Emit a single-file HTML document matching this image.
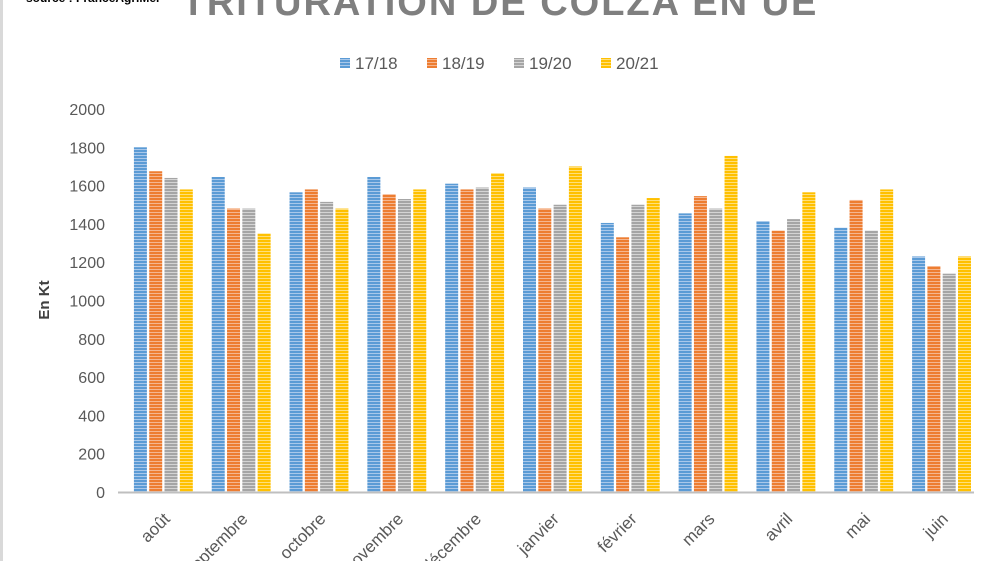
<!DOCTYPE html>
<html><head><meta charset="utf-8"><style>
body{margin:0;background:#fff;width:1000px;height:561px;overflow:hidden;font-family:"Liberation Sans",sans-serif}
</style></head><body>
<svg width="1000" height="561" viewBox="0 0 1000 561" xmlns="http://www.w3.org/2000/svg">
<defs>
<pattern id="p0" width="4" height="3" patternUnits="userSpaceOnUse"><rect width="4" height="3" fill="#5b9bd5"/><rect y="2" width="4" height="1" fill="#a9c8ea"/></pattern>
<pattern id="p1" width="4" height="3" patternUnits="userSpaceOnUse"><rect width="4" height="3" fill="#ed7d31"/><rect y="2" width="4" height="1" fill="#f5b690"/></pattern>
<pattern id="p2" width="4" height="3" patternUnits="userSpaceOnUse"><rect width="4" height="3" fill="#a5a5a5"/><rect y="2" width="4" height="1" fill="#d4d4d4"/></pattern>
<pattern id="p3" width="4" height="3" patternUnits="userSpaceOnUse"><rect width="4" height="3" fill="#ffc000"/><rect y="2" width="4" height="1" fill="#ffdf7a"/></pattern>
</defs>
<rect x="0" y="0" width="3" height="561" fill="#d9d9d9"/>
<text x="26" y="2" font-size="12" font-weight="bold" fill="#000">source : FranceAgriMer</text>
<text x="500" y="15" text-anchor="middle" font-size="38" font-weight="bold" letter-spacing="2" fill="#7f7f7f">TRITURATION DE COLZA EN UE</text>
<g id="legend"></g>
<text transform="translate(49,300) rotate(-90)" text-anchor="middle" font-size="15" font-weight="bold" fill="#404040">En Kt</text>
<g id="yaxis"></g>
<g id="bars"></g>
<line x1="118" y1="492.5" x2="974" y2="492.5" stroke="#bfbfbf" stroke-width="2"/>
<g id="xlabels"></g>
</svg>
<script>
const categories=["août","septembre","octobre","novembre","décembre","janvier","février","mars","avril","mai","juin"];
const seriesNames=["17/18","18/19","19/20","20/21"];
const s1718=[1800,1645,1565,1645,1610,1590,1405,1455,1415,1380,1230];
const s1819=[1675,1480,1580,1555,1580,1480,1330,1545,1365,1525,1180];
const s1920=[1640,1480,1515,1530,1590,1500,1500,1480,1425,1365,1140];
const s2021=[1580,1350,1480,1580,1665,1700,1535,1755,1565,1580,1230];
const yTicks=[0,200,400,600,800,1000,1200,1400,1600,1800,2000];
const series=[s1718,s1819,s1920,s2021];
const NS="http://www.w3.org/2000/svg";
const x0=118,x1=974,yB=492,yT=109,yMax=2000;
const y=v=>yB-(v/yMax)*(yB-yT);
const bw=(x1-x0)/categories.length;
const xc=i=>x0+bw*(i+0.5);
function mk(t,a,p){const e=document.createElementNS(NS,t);for(const k in a)e.setAttribute(k,a[k]);p.appendChild(e);return e;}
const ya=document.getElementById('yaxis');
yTicks.forEach(v=>{const t=mk('text',{x:105,y:y(v)+6,'text-anchor':'end','font-size':16,fill:'#595959'},ya);


t.textContent=v;});
const bg=document.getElementById('bars');
const barW=13,step=15.3;
series.forEach((s,si)=>{s.forEach((v,i)=>{
const r=mk('rect',{x:xc(i)-23+si*step,y:y(v),width:barW,height:yB-y(v),fill:'url(#p'+si+')'},bg);


});});
const xl=document.getElementById('xlabels');
categories.forEach((c,i)=>{const t=mk('text',{transform:'translate('+(xc(i)+14)+',520) rotate(-45)','text-anchor':'end','font-size':17,fill:'#595959'},xl);


t.textContent=c;});
const lg=document.getElementById('legend');
const lx=[340,427,514,601];
seriesNames.forEach((n,i)=>{const g=mk('g',{},lg);


mk('rect',{x:lx[i],y:58,width:10,height:10,fill:'url(#p'+i+')'},g);
const t=mk('text',{x:lx[i]+15,y:69,'font-size':17,fill:'#595959'},g);t.textContent=n;});
</script>
</body></html>
